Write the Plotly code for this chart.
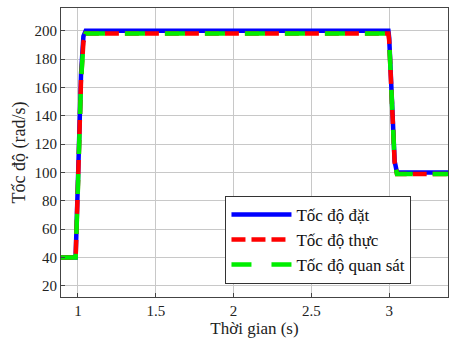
import plotly.graph_objects as go

# time (s)
t_set = [0.88, 0.985, 1.00, 1.02, 1.035, 1.05, 1.10, 2.995, 3.00, 3.02, 3.035, 3.05, 3.10, 3.40]
v_set = [40, 40, 95, 170, 196, 200, 200, 200, 195, 140, 108, 100, 100, 100]

t_real = [0.88, 0.985, 1.00, 1.02, 1.035, 1.05, 1.10, 2.995, 3.00, 3.02, 3.035, 3.05, 3.10, 3.40]
v_real = [40, 40, 92, 166, 192, 198, 198, 198, 193, 138, 107, 99, 99, 99]

t_obs = [0.88, 0.985, 1.00, 1.02, 1.035, 1.05, 1.10, 2.995, 3.00, 3.02, 3.035, 3.05, 3.10, 3.40]
v_obs = [40, 40, 90, 165, 191, 198, 198, 198, 193, 138, 107, 99, 99, 99]

names = ["Tốc độ đặt", "Tốc độ thực", "Tốc độ quan sát"]
x_ticks = [1, 1.5, 2, 2.5, 3]
x_ticklabels = ["1", "1.5", "2", "2.5", "3"]
y_ticks = [20, 40, 60, 80, 100, 120, 140, 160, 180, 200]

fig = go.Figure()
fig.add_trace(go.Scatter(x=t_set, y=v_set, mode="lines", name=names[0],
                         line=dict(color="#0000ff", width=4.5)))
fig.add_trace(go.Scatter(x=t_real, y=v_real, mode="lines", name=names[1],
                         line=dict(color="#ff0000", width=4.5, dash="14px,6px")))
fig.add_trace(go.Scatter(x=t_obs, y=v_obs, mode="lines", name=names[2],
                         line=dict(color="#00ee00", width=4.5, dash="20px,20px")))

font = "'Liberation Serif', 'DejaVu Serif', serif"
fig.update_layout(
    width=449, height=338,
    margin=dict(l=61, r=1, t=8, b=41),
    paper_bgcolor="white", plot_bgcolor="white",
    font=dict(family=font, size=15, color="#222222"),
    showlegend=True,
    legend=dict(x=0.425, y=0.35, xanchor="left", yanchor="top",
                bgcolor="white", bordercolor="#333333", borderwidth=1,
                font=dict(family=font, size=17, color="#111111"),
                itemwidth=60, tracegroupgap=0),
    xaxis=dict(range=[0.891, 3.378], tickvals=x_ticks, ticktext=x_ticklabels,
               showgrid=True, gridcolor="#c8c8c8", gridwidth=1,
               showline=True, linecolor="#444444", linewidth=1, mirror=True,
               ticks="inside", ticklen=4, tickcolor="#444444",
               zeroline=False,
               title=dict(text="Thời gian (s)", font=dict(family=font, size=17), standoff=0),
               tickfont=dict(family=font, size=15)),
    yaxis=dict(range=[12.2, 216], tickvals=y_ticks,
               showgrid=True, gridcolor="#c8c8c8", gridwidth=1,
               showline=True, linecolor="#444444", linewidth=1, mirror=True,
               ticks="inside", ticklen=4, tickcolor="#444444",
               zeroline=False,
               title=dict(text="Tốc độ (rad/s)", font=dict(family=font, size=18), standoff=4),
               tickfont=dict(family=font, size=15)),
)
fig.write_html("out.html")
